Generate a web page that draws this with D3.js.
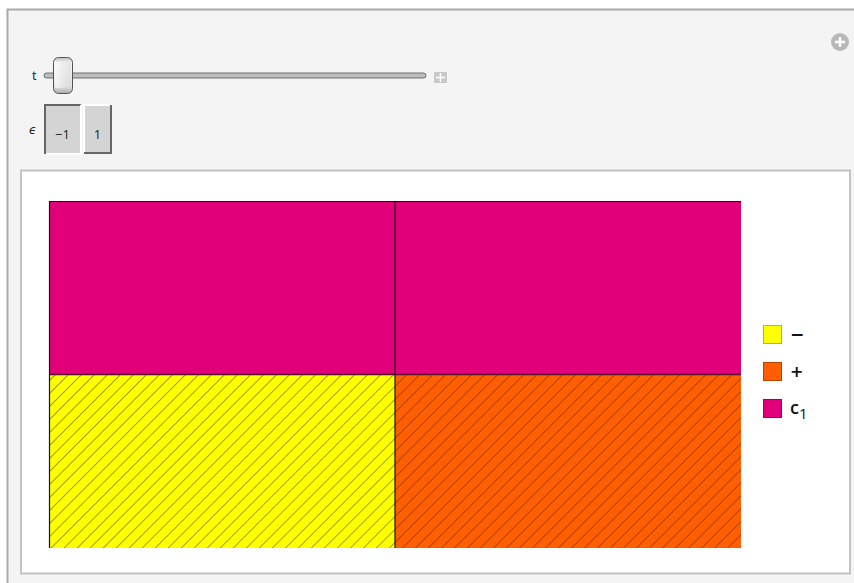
<!DOCTYPE html>
<html><head><meta charset="utf-8">
<script src="https://cdn.jsdelivr.net/npm/d3@7"></script>
<style>
html,body{margin:0;padding:0;background:#fff;}
svg{display:block;font-family:"Open Sans","DejaVu Sans",sans-serif;}
</style></head>
<body>
<svg id="c" width="854" height="583"></svg>
<script>
// ---- data ----
const columns = ["−1", "1"];            // ε values (column groups)
const colWidths = [0.5, 0.5];           // share of each column
const segLabels = [["−", "c1"], ["+", "c1"]]; // bottom-to-top in each column
const segValues = [[0.5, 0.5], [0.5, 0.5]];
const legendLabels = ["−", "+", "c1"];
const legendColors = ["#ffff00", "#ff5f00", "#e2007a"];
const hatched = {"−": true, "+": true, "c1": false};
const setterLabels = ["−1", "1"];

const svg = d3.select("#c");
const color = d3.scaleOrdinal().domain(legendLabels).range(legendColors);

// background frames
svg.append("rect").attr("x",0).attr("y",0).attr("width",854).attr("height",583).attr("fill","#fff");
svg.append("rect").attr("x",7).attr("y",10).attr("width",850).attr("height",580).attr("fill","#f4f4f4");
svg.append("path").attr("d","M7.5,583 V9.5 H854").attr("fill","none").attr("stroke","#a9a9a9").attr("stroke-width",2);
svg.append("rect").attr("x",21).attr("y",170.5).attr("width",829).attr("height",403).attr("fill","#fff").attr("stroke","#c3c3c3").attr("stroke-width",2);

// plus icon top-right
svg.append("circle").attr("cx",840).attr("cy",42).attr("r",9).attr("fill","#b8b8b8");
svg.append("path").attr("d","M835,42 H845 M840,37 V47").attr("stroke","#fff").attr("stroke-width",2.5);

// slider
const defs = svg.append("defs");
const tg = defs.append("linearGradient").attr("id","thumb").attr("x1",0).attr("x2",0).attr("y1",0).attr("y2",1);
tg.append("stop").attr("offset","0").attr("stop-color","#bdbdbd");
tg.append("stop").attr("offset","0.15").attr("stop-color","#f6f6f6");
tg.append("stop").attr("offset","0.8").attr("stop-color","#e4e4e4");
tg.append("stop").attr("offset","1").attr("stop-color","#a9a9a9");
const tg2 = defs.append("linearGradient").attr("id","thumbh").attr("x1",0).attr("x2",1).attr("y1",0).attr("y2",0);
tg2.append("stop").attr("offset","0").attr("stop-color","#ffffff").attr("stop-opacity",0.6);
tg2.append("stop").attr("offset","1").attr("stop-color","#cfcfcf").attr("stop-opacity",0.4);
svg.append("text").attr("x",32).attr("y",80).attr("font-size",13).attr("fill","#222").text("t");
svg.append("rect").attr("x",44).attr("y",73).attr("width",382).attr("height",5).attr("rx",2.5).attr("fill","#bdbdbd").attr("stroke","#6e6e6e").attr("stroke-width",1);
svg.append("rect").attr("x",53.5).attr("y",57.5).attr("width",19).attr("height",36).attr("rx",5).attr("fill","url(#thumb)").attr("stroke","#555").attr("stroke-width",1);
svg.append("rect").attr("x",55).attr("y",62).attr("width",16).attr("height",26).attr("fill","url(#thumbh)");
// small plus
svg.append("rect").attr("x",434).attr("y",72).attr("width",13).attr("height",11).attr("fill","#c8c8c8");
svg.append("path").attr("d","M436,77.5 H445 M440.5,73 V82").attr("stroke","#fff").attr("stroke-width",1.5);

// setter
svg.append("text").attr("x",29).attr("y",134).attr("font-size",12).attr("font-style","italic").attr("fill","#222").text("ϵ");
const sb = [{x:44,w:37,pressed:true},{x:83,w:29,pressed:false}];
setterLabels.forEach((lab,i)=>{
  const b = sb[i];
  svg.append("rect").attr("x",b.x).attr("y",104).attr("width",b.w).attr("height",50).attr("fill","#d4d4d4");
  if(b.pressed){
    svg.append("path").attr("d",`M${b.x+1},154 V${105} H${b.x+b.w}`).attr("fill","none").attr("stroke","#666").attr("stroke-width",2);
    svg.append("path").attr("d",`M${b.x+2},154 H${b.x+b.w} V105`).attr("fill","none").attr("stroke","#fff").attr("stroke-width",2);
  } else {
    svg.append("path").attr("d",`M${b.x+1},154 V${105} H${b.x+b.w}`).attr("fill","none").attr("stroke","#fff").attr("stroke-width",2);
    svg.append("path").attr("d",`M${b.x+1},153 H${b.x+b.w-1} V105`).attr("fill","none").attr("stroke","#666").attr("stroke-width",2);
  }
  svg.append("text").attr("x",b.x+b.w/2).attr("y",139).attr("text-anchor","middle").attr("font-size",13).attr("fill","#222").text(lab);
});

// hatch patterns
function hatch(id, fill, line){
  const p = defs.append("pattern").attr("id",id).attr("patternUnits","userSpaceOnUse")
    .attr("width",9.2).attr("height",9.2).attr("patternTransform","rotate(45)");
  p.append("rect").attr("width",9.2).attr("height",9.2).attr("fill",fill);
  p.append("line").attr("x1",0).attr("y1",0).attr("x2",0).attr("y2",9.2).attr("stroke",line).attr("stroke-width",1.6);
}
hatch("h_minus", color("−"), "#8c8a00");
hatch("h_plus", color("+"), "#9a3a00");

// mosaic
const x = d3.scaleLinear().domain([0,1]).range([49,741]);
const y = d3.scaleLinear().domain([0,1]).range([548,201]);
const plot = svg.append("g");
let cx = 0;
columns.forEach((c,i)=>{
  let cy = 0;
  const w = colWidths[i];
  segValues[i].forEach((v,j)=>{
    const lab = segLabels[i][j];
    const fill = hatched[lab] ? (lab==="−" ? "url(#h_minus)" : "url(#h_plus)") : color(lab);
    plot.append("rect")
      .attr("x",x(cx)).attr("y",y(cy+v)).attr("width",x(cx+w)-x(cx)).attr("height",y(cy)-y(cy+v))
      .attr("fill",fill);
    cy += v;
  });
  cx += w;
});
// division lines
let acc = 0;
colWidths.slice(0,-1).forEach(w=>{ acc+=w;
  plot.append("line").attr("x1",x(acc)).attr("x2",x(acc)).attr("y1",y(1)).attr("y2",y(0)).attr("stroke","#111").attr("stroke-width",1.2);
});
columns.forEach((c,i)=>{
  let cy=0, x0=colWidths.slice(0,i).reduce((a,b)=>a+b,0);
  segValues[i].slice(0,-1).forEach(v=>{ cy+=v;
    plot.append("line").attr("x1",x(x0)).attr("x2",x(x0+colWidths[i])).attr("y1",y(cy)).attr("y2",y(cy)).attr("stroke","#5a0a30").attr("stroke-width",1.4);
  });
});
plot.append("path").attr("d",`M${x(0)+0.5},${y(0)} V${y(1)+0.5} H${x(1)}`).attr("fill","none").attr("stroke","#111").attr("stroke-width",1.2);

// legend
const lg = svg.append("g");
legendLabels.forEach((lab,i)=>{
  const yy = 325 + i*37;
  lg.append("rect").attr("x",763.5).attr("y",yy+0.5).attr("width",18).attr("height",18)
    .attr("fill",color(lab)).attr("stroke",d3.color(color(lab)).darker(0.9)).attr("stroke-width",1);
  const t = lg.append("text").attr("x",790).attr("y",yy+15).attr("font-size",18).attr("font-weight",600).attr("fill","#111");
  if(lab==="c1"){
    t.append("tspan").text("c");
    t.append("tspan").attr("dy",5).attr("font-size",15).attr("font-weight",400).text("1");
  } else if(lab==="−"){
    t.attr("font-family","DejaVu Sans").attr("font-weight",700).attr("font-size",17).text(lab);
  } else t.attr("font-family","DejaVu Sans").attr("font-weight",700).attr("font-size",16).text(lab);
});
</script>
</body></html>
